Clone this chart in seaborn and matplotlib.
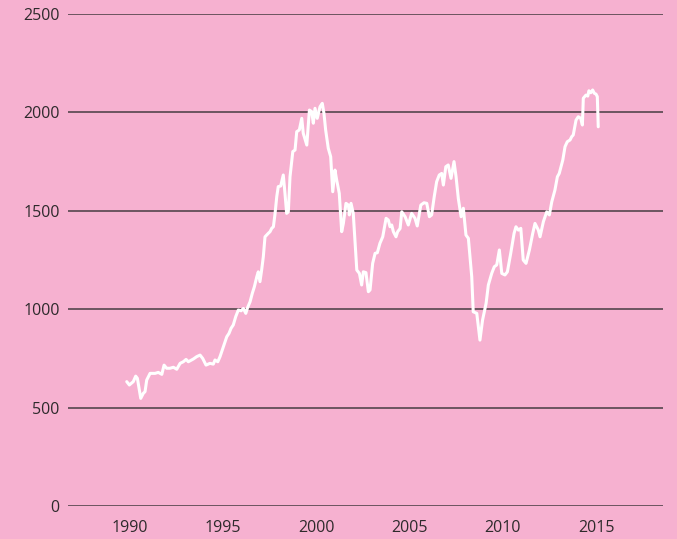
import matplotlib

matplotlib.use("Agg")
import matplotlib.pyplot as plt
import pandas as pd
import seaborn as sns

# Index level, roughly every 1-2 months.
years = [
    1989.85, 1989.99, 1990.20, 1990.33, 1990.42, 1990.60, 1990.74, 1990.83,
    1990.92, 1991.10, 1991.37, 1991.54, 1991.73, 1991.85, 1991.99, 1992.17,
    1992.35, 1992.53, 1992.71, 1992.88, 1993.03, 1993.15, 1993.42, 1993.60,
    1993.78, 1993.92, 1994.10, 1994.31, 1994.49, 1994.58, 1994.73, 1994.85,
    1995.03, 1995.21, 1995.33, 1995.44, 1995.56, 1995.69, 1995.83, 1995.98,
    1996.10, 1996.23, 1996.33, 1996.46, 1996.58, 1996.69, 1996.82, 1996.90,
    1996.99, 1997.08, 1997.17, 1997.26, 1997.44, 1997.53, 1997.62, 1997.71,
    1997.80, 1997.89, 1997.97, 1998.10, 1998.24, 1998.33, 1998.42, 1998.51,
    1998.60, 1998.75, 1998.87, 1998.96, 1999.10, 1999.23, 1999.31, 1999.50,
    1999.64, 1999.76, 1999.85, 1999.94, 2000.06, 2000.21, 2000.33, 2000.42,
    2000.51, 2000.65, 2000.78, 2000.89, 2001.01, 2001.10, 2001.24, 2001.37,
    2001.46, 2001.60, 2001.73, 2001.78, 2001.87, 2001.99, 2002.18, 2002.32,
    2002.44, 2002.53, 2002.67, 2002.80, 2002.89, 2003.03, 2003.16, 2003.28,
    2003.42, 2003.57, 2003.75, 2003.87, 2003.96, 2004.05, 2004.14, 2004.28,
    2004.37, 2004.50, 2004.59, 2004.77, 2004.94, 2005.12, 2005.30, 2005.42,
    2005.61, 2005.78, 2005.93, 2006.07, 2006.19, 2006.33, 2006.46, 2006.60,
    2006.73, 2006.82, 2006.95, 2007.08, 2007.23, 2007.39, 2007.50, 2007.62,
    2007.77, 2007.89, 2008.03, 2008.16, 2008.34, 2008.42, 2008.61, 2008.78,
    2008.92, 2009.11, 2009.23, 2009.41, 2009.55, 2009.68, 2009.82, 2009.95,
    2010.12, 2010.25, 2010.43, 2010.61, 2010.71, 2010.84, 2010.97, 2011.10,
    2011.25, 2011.43, 2011.61, 2011.73, 2011.91, 2012.00, 2012.18, 2012.36,
    2012.50, 2012.63, 2012.80, 2012.93, 2013.03, 2013.22, 2013.34, 2013.46,
    2013.61, 2013.70, 2013.78, 2013.93, 2014.05, 2014.18, 2014.27, 2014.32,
    2014.46, 2014.56, 2014.62, 2014.72, 2014.82, 2014.91, 2015.00, 2015.07,
    2015.12,
]
values = [
    632, 615, 632, 660, 649, 547, 573, 581,
    640, 674, 674, 679, 669, 716, 700, 700,
    705, 695, 725, 733, 745, 733, 747, 759,
    767, 750, 716, 725, 721, 742, 733, 759,
    810, 860, 877, 903, 920, 962, 996, 992,
    1004, 979, 1009, 1038, 1081, 1114, 1165, 1190,
    1140, 1199, 1267, 1368, 1386, 1394, 1411, 1419,
    1487, 1572, 1623, 1626, 1682, 1589, 1487, 1495,
    1673, 1801, 1809, 1902, 1911, 1970, 1894, 1834,
    2012, 2004, 1945, 2021, 1970, 2029, 2046, 1995,
    1911, 1818, 1775, 1597, 1707, 1657, 1589, 1394,
    1436, 1538, 1529, 1479, 1538, 1487, 1199, 1182,
    1123, 1190, 1186, 1089, 1098, 1233, 1284, 1287,
    1335, 1368, 1462, 1453, 1419, 1428, 1394, 1368,
    1394, 1410, 1495, 1470, 1428, 1487, 1462, 1423,
    1529, 1541, 1538, 1470, 1479, 1572, 1648, 1682,
    1690, 1631, 1724, 1733, 1665, 1750, 1673, 1563,
    1470, 1513, 1377, 1360, 1165, 987, 979, 843,
    945, 1030, 1123, 1182, 1216, 1225, 1301, 1182,
    1174, 1190, 1284, 1386, 1419, 1402, 1411, 1250,
    1233, 1301, 1386, 1436, 1402, 1368, 1445, 1495,
    1479, 1546, 1606, 1673, 1690, 1758, 1826, 1851,
    1860, 1877, 1885, 1961, 1978, 1970, 1936, 2072,
    2088, 2083, 2110, 2100, 2114, 2097, 2093, 2080,
    1927,
]
x_ticks = [1990, 1995, 2000, 2005, 2010, 2015]
y_ticks = [0, 500, 1000, 1500, 2000, 2500]

PINK = "#f6b1d0"
GRID = "#54464d"
TEXT = "#2e2a2c"

sns.set_theme(style="white")
plt.rcParams["font.family"] = ["Open Sans", "DejaVu Sans"]

df = pd.DataFrame({"year": years, "value": values})

fig = plt.figure(figsize=(6.77, 5.39), dpi=100, facecolor=PINK)
ax = fig.add_axes([0.1004, 0.0612, 0.8789, 0.9128])
ax.set_facecolor(PINK)

sns.lineplot(data=df, x="year", y="value", ax=ax, color="white",
             linewidth=2.2, zorder=3)

ax.set_xlim(1986.7, 2018.59)
ax.set_ylim(0, 2500)
ax.set_xticks(x_ticks)
ax.set_yticks(y_ticks)
ax.yaxis.grid(True, color=GRID, linewidth=1.2)
ax.set_axisbelow(True)
for s in ax.spines.values():
    s.set_visible(False)
ax.tick_params(axis="both", length=0, labelsize=11.5, colors=TEXT)
ax.tick_params(axis="y", pad=6)
ax.tick_params(axis="x", pad=10)
ax.set_xlabel("")
ax.set_ylabel("")

fig.savefig("out.png", dpi=100, facecolor=PINK)
